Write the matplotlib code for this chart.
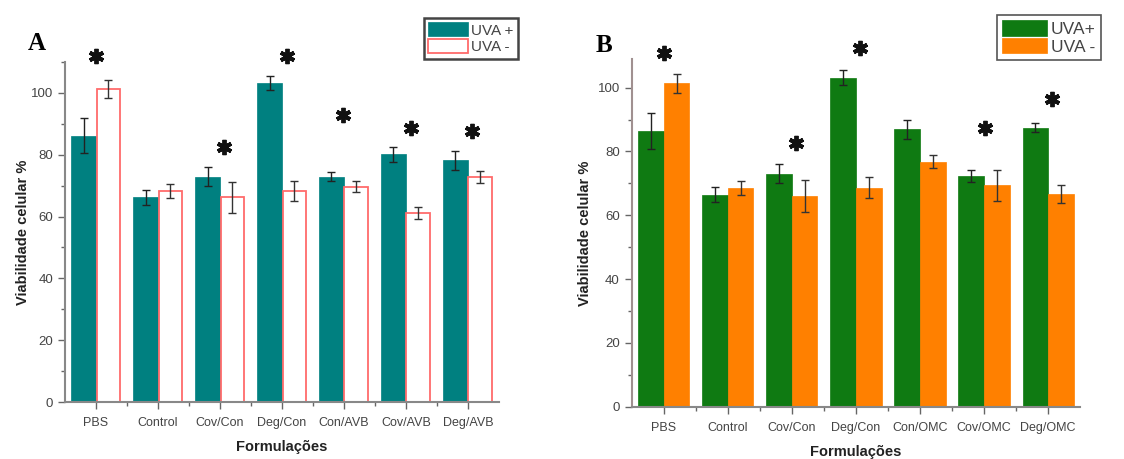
import numpy as np
import matplotlib
matplotlib.use("Agg")
import matplotlib.pyplot as plt
from matplotlib.ticker import MultipleLocator, FixedLocator

plt.rcParams["font.family"] = ["Liberation Sans", "DejaVu Sans"]

# panel A data
cats_a = ["PBS", "Control", "Cov/Con", "Deg/Con", "Con/AVB", "Cov/AVB", "Deg/AVB"]
uva_pos_a = [86.2, 66.3, 72.9, 103.2, 72.9, 80.1, 78.2]
uva_pos_a_err = [5.6, 2.4, 3.0, 2.2, 1.5, 2.4, 3.0]
uva_neg_a = [101.2, 68.3, 66.2, 68.3, 69.6, 61.1, 72.7]
uva_neg_a_err = [3.0, 2.2, 5.0, 3.3, 1.8, 2.0, 2.0]
star_x_a = [0.0, 2.07, 3.09, 3.98, 5.09, 6.06]
star_y_a = [112.0, 82.5, 112.0, 93.0, 88.7, 87.8]

# panel B data
cats_b = ["PBS", "Control", "Cov/Con", "Deg/Con", "Con/OMC", "Cov/OMC", "Deg/OMC"]
uva_pos_b = [86.4, 66.5, 73.0, 103.1, 87.0, 72.4, 87.5]
uva_pos_b_err = [5.7, 2.3, 3.0, 2.4, 3.0, 1.9, 1.3]
uva_neg_b = [101.4, 68.6, 66.1, 68.6, 76.8, 69.4, 66.8]
uva_neg_b_err = [3.0, 2.2, 5.0, 3.3, 2.0, 4.9, 2.8]
star_x_b = [0.0, 2.07, 3.06, 5.02, 6.06]
star_y_b = [110.9, 82.6, 112.3, 87.3, 96.4]

fig = plt.figure(figsize=(11.24, 4.59), dpi=100)

def draw_panel(ax, cats, pos, pos_err, neg, neg_err, sx, sy, c_pos, c_neg, neg_edge, ytop, ypad):
    x = np.arange(len(cats))
    w = 0.4
    b1 = ax.bar(x - w / 2, pos, w, color=c_pos, edgecolor=c_pos, linewidth=0.5, zorder=2)
    if neg_edge is None:
        b2 = ax.bar(x + w / 2, neg, w, color=c_neg, edgecolor=c_neg, linewidth=0.5, zorder=2)
    else:
        b2 = ax.bar(x + w / 2, neg, w * 0.95, color=c_neg, edgecolor=neg_edge, linewidth=1.3, zorder=2)
    ax.errorbar(x - w / 2, pos, yerr=pos_err, fmt="none", ecolor="#222222", elinewidth=1, capsize=3, zorder=3)
    ax.errorbar(x + w / 2, neg, yerr=neg_err, fmt="none", ecolor="#333333", elinewidth=1, capsize=3, zorder=3)
    ax.plot(sx, sy, linestyle="none", marker=(6, 2, 0), markersize=11, markeredgewidth=2.8,
            color="#111111", clip_on=False, zorder=4)
    ax.set_xlim(-0.5, 6.5)
    ax.set_ylim(0, ytop)
    ax.set_xticks(x)
    ax.set_xticklabels(cats, fontsize=9, color="#444444")
    ax.xaxis.set_minor_locator(FixedLocator(x[:-1] + 0.5))
    ax.yaxis.set_minor_locator(MultipleLocator(10))
    ax.set_yticks([0, 20, 40, 60, 80, 100])
    ax.tick_params(axis="y", labelsize=9.5, labelcolor="#444444", color="#666666", length=5, width=1)
    ax.tick_params(axis="x", color="#666666", length=5, width=1, pad=6)
    ax.tick_params(which="minor", color="#666666", length=3, width=1)
    for s in ["top", "right"]:
        ax.spines[s].set_visible(False)
    for s in ["left", "bottom"]:
        ax.spines[s].set_color("#888888")
        ax.spines[s].set_linewidth(1.5)
    ax.set_xlabel("Formulações", fontsize=10.5, fontweight="bold", color="#222222", labelpad=8)
    ax.set_ylabel("Viabilidade celular %", fontsize=10.5, fontweight="bold", color="#222222", labelpad=ypad)
    return b1, b2

ax_a = fig.add_axes([0.0578, 0.124, 0.386, 0.741])
h_a = draw_panel(ax_a, cats_a, uva_pos_a, uva_pos_a_err, uva_neg_a, uva_neg_a_err,
                 star_x_a, star_y_a, "#008080", "white", "#ff6b6b", 110, 1)
leg_a = ax_a.legend(h_a, ["UVA +", "UVA -"], loc="upper right", bbox_to_anchor=(0.461, 0.961),
                    bbox_transform=fig.transFigure, fontsize=11, handlelength=2.6, handleheight=1.0,
                    handletextpad=0.2, borderpad=0.3, labelspacing=0.1, borderaxespad=0,
                    fancybox=False, framealpha=1)
leg_a.get_frame().set_edgecolor("#444444")
leg_a.get_frame().set_linewidth(1.8)
for t in leg_a.get_texts():
    t.set_color("#444444")

ax_b = fig.add_axes([0.562, 0.114, 0.399, 0.7575])
h_b = draw_panel(ax_b, cats_b, uva_pos_b, uva_pos_b_err, uva_neg_b, uva_neg_b_err,
                 star_x_b, star_y_b, "#0f7a12", "#ff8000", None, 109, 4)
ax_b.spines["left"].set_color("#a09090")
leg_b = ax_b.legend(h_b, ["UVA+", "UVA -"], loc="upper left", bbox_to_anchor=(0.887, 0.967),
                    bbox_transform=fig.transFigure, fontsize=12.5, handlelength=2.6, handleheight=1.0,
                    handletextpad=0.2, borderpad=0.3, labelspacing=0.05, borderaxespad=0,
                    fancybox=False, framealpha=1)
leg_b.get_frame().set_edgecolor("#555555")
leg_b.get_frame().set_linewidth(1.2)
for t in leg_b.get_texts():
    t.set_color("#444444")

fig.text(0.033, 0.905, "A", fontsize=18, fontweight="bold", family="Liberation Serif", va="center", ha="center")
fig.text(0.537, 0.90, "B", fontsize=18, fontweight="bold", family="Liberation Serif", va="center", ha="center")

fig.savefig("out.png", dpi=100)
